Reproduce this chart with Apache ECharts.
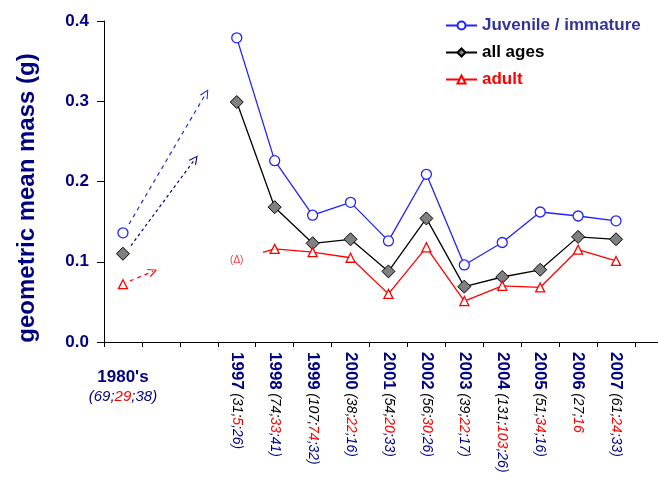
<!DOCTYPE html>
<html>
<head>
<meta charset="utf-8">
<script src="https://cdn.jsdelivr.net/npm/echarts@6/dist/echarts.min.js"></script>
<style>html,body{margin:0;padding:0;background:#fff;}#c{width:658px;height:480px;}</style>
</head>
<body>
<div id="c"></div>
<script>
// ---- data ----
const categories = ["1980's", '', '', '1997', '1998', '1999', '2000', '2001', '2002', '2003', '2004', '2005', '2006', '2007'];
const juvenile = [0.136, null, null, 0.379, 0.226, 0.158, 0.174, 0.126, 0.209, 0.096, 0.124, 0.162, 0.157, 0.151];
const allAges  = [0.110, null, null, 0.299, 0.168, 0.123, 0.128, 0.088, 0.154, 0.069, 0.081, 0.090, 0.131, 0.128];
const adult    = [0.072, null, null, null,  0.116, 0.112, 0.105, 0.060, 0.118, 0.051, 0.070, 0.068, 0.115, 0.101];
const adultUncertain = [null, null, null, 0.102, 0.116, null, null, null, null, null, null, null, null, null];
const nAll   = [69, null, null, 31, 74, 107, 38, 54, 56, 39, 131, 51, 27, 61];
const nAdult = [29, null, null, 5, 33, 74, 22, 20, 30, 22, 103, 34, 16, 24];
const nJuv   = [38, null, null, 26, 41, 32, 16, 33, 26, 17, 26, 16, null, 33];
const yTicks = [0, 0.1, 0.2, 0.3, 0.4];
// trend arrows from the 1980's points (category index, value)
const arrowJuvFrom = [0.16, 0.147], arrowJuvTo = [2.19, 0.310];
const arrowAllFrom = [0.21, 0.120], arrowAllTo = [1.90, 0.228];
const arrowAdultFrom = [0.18, 0.076], arrowAdultTo = [0.79, 0.088];

const FONT = '"Liberation Sans", Arial, sans-serif';
const NAVY = '#000080';
const BLUE = '#2222ff';
const RED = '#ff0000';
const m = v => (v == null ? '-' : v);
const chevron = 'path://M0,10 L5,0 L10,10 L8.6,10 L5,2.6 L1.4,10 Z';

const chart = echarts.init(document.getElementById('c'), null, {renderer: 'canvas'});
chart.setOption({
  animation: false,
  backgroundColor: '#fff',
  textStyle: {fontFamily: FONT},
  grid: {left: 104, right: 23, top: 21, bottom: 138, containLabel: false},
  legend: {
    orient: 'vertical', left: 440, top: 12, itemWidth: 31, itemHeight: 10, itemGap: 10,
    textStyle: {fontFamily: FONT, fontWeight: 'bold', fontSize: 17},
    data: [
      {name: 'Juvenile / immature', textStyle: {color: '#333399'}},
      {name: 'all ages', textStyle: {color: '#000'}},
      {name: 'adult', textStyle: {color: RED}}
    ]
  },
  xAxis: [
    {
      type: 'category', data: categories, boundaryGap: true, gridIndex: 0, position: 'bottom',
      axisLine: {lineStyle: {color: '#000', width: 1}},
      axisTick: {show: true, length: 5, lineStyle: {color: '#000'}},
      axisLabel: {
        interval: 0, rotate: -90, margin: 10,
        formatter: (v, i) => {
          if (i < 3) return '';
          let s = '{y|' + v + '} {k|(' + nAll[i] + ';}{r|' + nAdult[i] + '}';
          if (nJuv[i] != null) s += '{n|;' + nJuv[i] + ')}';
          return s;
        },
        rich: {
          y: {fontFamily: FONT, fontWeight: 'bold', fontSize: 17, color: NAVY},
          k: {fontFamily: FONT, fontStyle: 'italic', fontSize: 14, color: '#000'},
          r: {fontFamily: FONT, fontStyle: 'italic', fontSize: 14, color: RED},
          n: {fontFamily: FONT, fontStyle: 'italic', fontSize: 14, color: NAVY}
        }
      }
    },
    {
      type: 'category', data: categories, boundaryGap: true, gridIndex: 0, position: 'bottom',
      axisLine: {show: false}, axisTick: {show: false},
      axisLabel: {
        interval: 0, rotate: 0, margin: 26,
        formatter: (v, i) => i === 0 ? '{y|' + v + '}\n{n|(' + nAll[i] + ';}{r|' + nAdult[i] + '}{n|;' + nJuv[i] + ')}' : '',
        rich: {
          y: {fontFamily: FONT, fontWeight: 'bold', fontSize: 17, color: NAVY, lineHeight: 19},
          r: {fontFamily: FONT, fontStyle: 'italic', fontSize: 15, color: RED, lineHeight: 19},
          n: {fontFamily: FONT, fontStyle: 'italic', fontSize: 15, color: NAVY, lineHeight: 19}
        }
      }
    },
    {type: 'value', gridIndex: 0, min: -0.5, max: 13.5, show: false}
  ],
  yAxis: {
    type: 'value', min: yTicks[0], max: yTicks[yTicks.length - 1], interval: 0.1,
    axisLine: {show: true, onZero: false, lineStyle: {color: '#000'}},
    axisTick: {show: true, length: 7, lineStyle: {color: '#000'}},
    splitLine: {show: false},
    axisLabel: {margin: 15, color: NAVY, fontWeight: 'bold', fontSize: 17, fontFamily: FONT,
      formatter: v => v.toFixed(1)}
  },
  graphic: [
    {type: 'text', x: 27, y: 198, rotation: Math.PI / 2,
      style: {text: 'geometric mean mass (g)', font: 'bold 24px ' + FONT, fill: NAVY, align: 'center', verticalAlign: 'middle'}},
    {type: 'line', shape: {x1: 635, y1: 342.5, x2: 658, y2: 342.5}, style: {stroke: '#000', lineWidth: 1}}
  ],
  series: [
    {
      name: 'Juvenile / immature', type: 'line', data: juvenile.map(m), xAxisIndex: 0,
      symbol: 'circle', symbolSize: 10, connectNulls: false,
      lineStyle: {color: BLUE, width: 1.3},
      itemStyle: {color: '#fff', borderColor: BLUE, borderWidth: 1.3}
    },
    {
      name: 'all ages', type: 'line', data: allAges.map(m), xAxisIndex: 0,
      symbol: 'diamond', symbolSize: 13, connectNulls: false,
      lineStyle: {color: '#000', width: 1.3},
      itemStyle: {color: '#808080', borderColor: '#000', borderWidth: 1}
    },
    {
      name: 'adult', type: 'line', data: adult.map(m), xAxisIndex: 0,
      symbol: 'triangle', symbolSize: 9, connectNulls: false,
      lineStyle: {color: RED, width: 1.3},
      itemStyle: {color: '#fff', borderColor: RED, borderWidth: 1.3}
    },
    {
      name: 'adultStub', type: 'line', data: adultUncertain.map(m), xAxisIndex: 0,
      showSymbol: false, symbol: 'none', z: 1,
      lineStyle: {width: 1.3, color: {type: 'linear', x: 0, y: 0, x2: 1, y2: 0, colorStops: [
        {offset: 0, color: 'rgba(255,0,0,0)'}, {offset: 0.68, color: 'rgba(255,0,0,0)'},
        {offset: 0.68, color: RED}, {offset: 1, color: RED}]}}
    },
    {
      name: 'adultNote', type: 'scatter', xAxisIndex: 0,
      data: adultUncertain.map((v, i) => (i === 3 ? v : '-')),
      symbolSize: 1, itemStyle: {color: 'rgba(0,0,0,0)'},
      label: {show: true, position: 'inside', formatter: '(Δ)', color: RED, fontSize: 10, fontFamily: FONT}
    },
    {
      name: 'arrows', type: 'lines', coordinateSystem: 'cartesian2d', xAxisIndex: 2, yAxisIndex: 0,
      symbol: ['none', chevron], symbolSize: 9,
      lineStyle: {opacity: 1},
      data: [
        {coords: [arrowJuvFrom, arrowJuvTo], lineStyle: {color: '#2a2acc', type: [4, 4], width: 1.2, opacity: 1}},
        {coords: [arrowAllFrom, arrowAllTo], lineStyle: {color: NAVY, type: [3, 3], width: 1.2, opacity: 1}},
        {coords: [arrowAdultFrom, arrowAdultTo], lineStyle: {color: RED, type: [4, 4], width: 1.2, opacity: 1}}
      ]
    }
  ]
});
</script>
</body>
</html>
